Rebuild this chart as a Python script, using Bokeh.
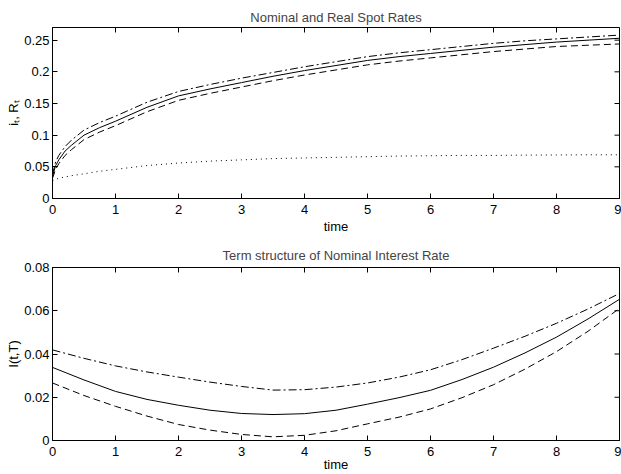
import math
from bokeh.plotting import figure
from bokeh.layouts import column
from bokeh.models import Range1d, FixedTicker
from bokeh.embed import file_html
from bokeh.resources import INLINE

# ---------------- data: top panel (spot rates) ----------------
t_spot = [0, 0.05, 0.1, 0.2, 0.3, 0.5, 0.75, 1, 1.5, 2, 2.5, 3, 3.5, 4,
          4.5, 5, 5.5, 6, 6.5, 7, 7.5, 8, 8.5, 9]
spot_mid = [0.035, 0.052, 0.061, 0.075, 0.084, 0.100, 0.112, 0.122, 0.144,
            0.162, 0.173, 0.183, 0.193, 0.202, 0.210, 0.218, 0.224, 0.229,
            0.234, 0.239, 0.243, 0.247, 0.250, 0.253]
spot_upper = [0.038, 0.058, 0.068, 0.082, 0.092, 0.108, 0.120, 0.130, 0.152,
              0.169, 0.180, 0.190, 0.199, 0.208, 0.216, 0.224, 0.230, 0.235,
              0.240, 0.245, 0.249, 0.252, 0.255, 0.258]
spot_lower = [0.032, 0.046, 0.055, 0.068, 0.077, 0.093, 0.105, 0.115, 0.137,
              0.155, 0.166, 0.176, 0.186, 0.195, 0.203, 0.211, 0.217, 0.222,
              0.227, 0.232, 0.236, 0.240, 0.242, 0.244]
real_spot = [0.028, 0.030, 0.032, 0.034, 0.036, 0.039, 0.043, 0.046, 0.052,
             0.056, 0.059, 0.061, 0.063, 0.064, 0.065, 0.066, 0.067, 0.0675,
             0.068, 0.068, 0.0685, 0.0687, 0.069, 0.069]

# ---------------- data: bottom panel (term structure) ----------------
t_term = [0, 0.5, 1, 1.5, 2, 2.5, 3, 3.5, 4, 4.5, 5, 5.5, 6, 6.5, 7, 7.5,
          8, 8.5, 9]
term_mid = [0.0338, 0.0280, 0.0227, 0.0190, 0.0163, 0.0140, 0.0125, 0.0120,
            0.0124, 0.0140, 0.0168, 0.0198, 0.0232, 0.0282, 0.0339, 0.0405,
            0.0478, 0.0562, 0.0653]
term_upper = [0.0419, 0.0380, 0.0345, 0.0317, 0.0293, 0.0270, 0.0250, 0.0233,
              0.0235, 0.0247, 0.0266, 0.0293, 0.0327, 0.0374, 0.0427, 0.0482,
              0.0542, 0.0608, 0.0680]
term_lower = [0.0266, 0.0208, 0.0158, 0.0113, 0.0074, 0.0048, 0.0028, 0.0017,
              0.0024, 0.0045, 0.0077, 0.0108, 0.0146, 0.0198, 0.0258, 0.0330,
              0.0411, 0.0505, 0.0611]

# ---------------- ticks / ranges ----------------
x_max = 9
x_ticks = [0, 1, 2, 3, 4, 5, 6, 7, 8, 9]
x_tick_labels = ["0", "1", "2", "3", "4", "5", "6", "7", "8", "9"]
top_y_max = 0.27
top_y_ticks = [0, 0.05, 0.1, 0.15, 0.2, 0.25]
top_y_tick_labels = ["0", "0.05", "0.1", "0.15", "0.2", "0.25"]
bot_y_max = 0.08
bot_y_ticks = [0, 0.02, 0.04, 0.06, 0.08]
bot_y_tick_labels = ["0", "0.02", "0.04", "0.06", "0.08"]

FONT = "Liberation Sans"
FS = "13px"


def make_fig(title, height, ymax, yticks, ylabels, ylab, b_top, b_bottom,
             xlab_standoff, title_standoff):
    p = figure(width=621, height=height, output_backend="svg",
               toolbar_location=None, x_range=Range1d(0, x_max),
               y_range=Range1d(0, ymax), title=title,
               min_border_left=52, min_border_right=2,
               min_border_top=b_top, min_border_bottom=b_bottom)
    p.title.text_font = FONT
    p.title.text_font_size = FS
    p.title.text_font_style = "normal"
    p.title.align = "center"
    p.title.standoff = title_standoff
    p.grid.visible = False
    p.outline_line_color = "black"
    p.outline_line_width = 1
    p.background_fill_color = "white"
    p.border_fill_color = "white"

    for ax, ticks, labels in ((p.xaxis[0], x_ticks, x_tick_labels),
                              (p.yaxis[0], yticks, ylabels)):
        ax.ticker = FixedTicker(ticks=ticks)
        ax.major_label_overrides = {tk: lb for tk, lb in zip(ticks, labels)}
        ax.major_tick_in = 5
        ax.major_tick_out = 0
        ax.minor_tick_line_color = None
        ax.axis_line_color = "black"
        ax.major_tick_line_color = "black"
        ax.major_label_text_font = FONT
        ax.major_label_text_font_size = FS
        ax.major_label_text_color = "black"
        ax.axis_label_text_font = FONT
        ax.axis_label_text_font_size = FS
        ax.axis_label_text_font_style = "normal"
        ax.axis_label_text_color = "black"
    p.xaxis[0].axis_label = "time"
    p.xaxis[0].major_label_standoff = 6
    p.xaxis[0].axis_label_standoff = xlab_standoff
    p.yaxis[0].axis_label = ylab
    p.yaxis[0].major_label_standoff = 3
    p.yaxis[0].axis_label_standoff = 0

    # inward tick marks on the top and right edges (half clipped by frame)
    p.scatter(x_ticks, [ymax] * len(x_ticks), marker="dash", size=10,
              angle=math.pi / 2, line_color="black", line_width=1)
    p.scatter([x_max] * len(yticks), yticks, marker="dash", size=10,
              line_color="black", line_width=1)
    return p


p1 = make_fig("Nominal and Real Spot Rates", 238, top_y_max, top_y_ticks,
              top_y_tick_labels, "iₜ, Rₜ", 27, 40, 2, 6)
p1.line(t_spot, spot_upper, line_color="black", line_width=1,
        line_dash="8 3 2 3")
p1.line(t_spot, spot_mid, line_color="black", line_width=1)
p1.line(t_spot, spot_lower, line_color="black", line_width=1,
        line_dash="7 4")
p1.line(t_spot, real_spot, line_color="black", line_width=1,
        line_dash="1 4")

p2 = make_fig("Term structure of Nominal Interest Rate", 236, bot_y_max,
              bot_y_ticks, bot_y_tick_labels, "I(t,T)", 29, 34, -2, 9)
p2.line(t_term, term_upper, line_color="black", line_width=1,
        line_dash="8 3 2 3")
p2.line(t_term, term_mid, line_color="black", line_width=1)
p2.line(t_term, term_lower, line_color="black", line_width=1,
        line_dash="7 4")

layout = column(p1, p2, spacing=0)
open("out.html", "w").write(file_html(layout, INLINE))
